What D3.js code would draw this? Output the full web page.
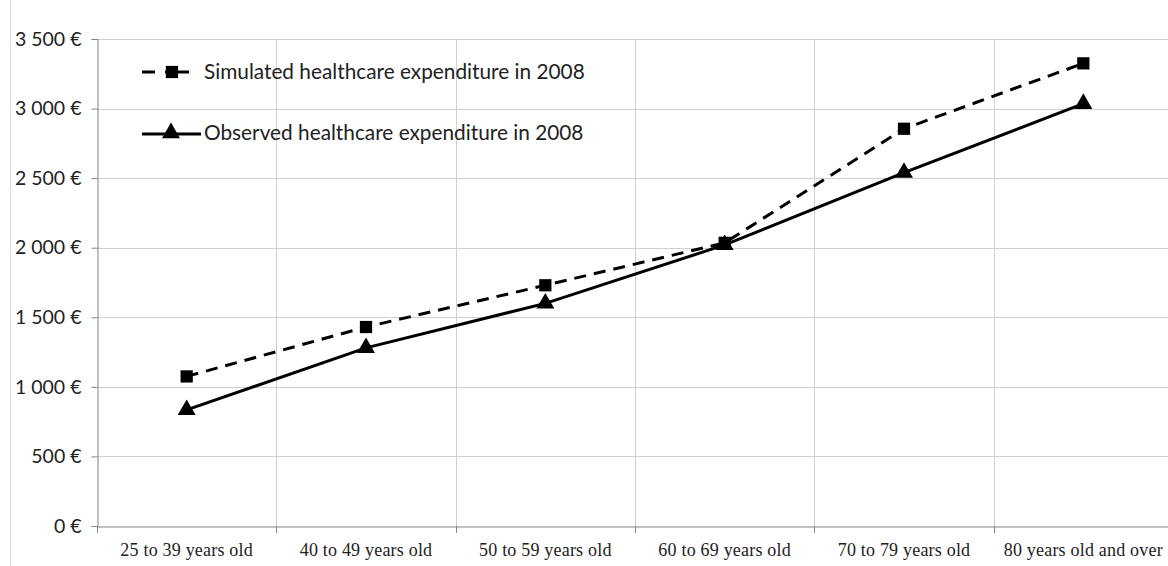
<!DOCTYPE html>
<html>
<head>
<meta charset="utf-8">
<script src="https://cdn.jsdelivr.net/npm/d3@7"></script>
<style>
  body { margin: 0; background: #fff; }
  .ylab { font-family: Lato, "Open Sans", sans-serif; font-size: 19.5px; fill: #222; }
  .xlab { font-family: "Liberation Serif", "DejaVu Serif", serif; font-size: 18px; letter-spacing: 0.2px; fill: #222; }
  .leg { font-family: Lato, "Open Sans", sans-serif; font-size: 20.8px; fill: #222; }
</style>
</head>
<body>
<div id="chart"></div>
<script>
var width = 1168, height = 566;

var categories = ["25 to 39 years old", "40 to 49 years old", "50 to 59 years old",
                  "60 to 69 years old", "70 to 79 years old", "80 years old and over"];
var simulated = [1075, 1430, 1730, 2035, 2855, 3325];
var observed = [835, 1280, 1600, 2020, 2540, 3035];
var yTicks = [0, 500, 1000, 1500, 2000, 2500, 3000, 3500];
var legendLabels = ["Simulated healthcare expenditure in 2008", "Observed healthcare expenditure in 2008"];

var plotLeft = 97, plotRight = 1173, plotTop = 39, plotBottom = 526;

var x = d3.scaleBand()
    .domain(categories)
    .range([plotLeft, plotRight]);

var y = d3.scaleLinear()
    .domain([0, 3500])
    .range([plotBottom, plotTop]);

var svg = d3.select("#chart").append("svg")
    .attr("width", width)
    .attr("height", height);

// chart border on the left
svg.append("line")
    .attr("x1", 10.5).attr("x2", 10.5)
    .attr("y1", 0).attr("y2", height)
    .attr("stroke", "#d9d9d9");

// gridlines
svg.append("g")
    .selectAll("line")
    .data(yTicks.slice(1))
    .enter().append("line")
    .attr("x1", plotLeft).attr("x2", plotRight)
    .attr("y1", function(d) { return Math.round(y(d)) + 0.5; })
    .attr("y2", function(d) { return Math.round(y(d)) + 0.5; })
    .attr("stroke", "#d0d0d0");

svg.append("g")
    .selectAll("line")
    .data(categories.slice(1))
    .enter().append("line")
    .attr("x1", function(d) { return Math.round(x(d)) + 0.5; })
    .attr("x2", function(d) { return Math.round(x(d)) + 0.5; })
    .attr("y1", plotTop).attr("y2", plotBottom)
    .attr("stroke", "#d0d0d0");

// axes
var yAxis = d3.axisLeft(y)
    .tickValues(yTicks)
    .tickSize(6)
    .tickPadding(10)
    .tickFormat(function(d) { return d3.format(",")(d).replace(",", " ") + " €"; });

var gy = svg.append("g")
    .attr("transform", "translate(" + (plotLeft + 0.5) + ",0)")
    .call(yAxis);
gy.select(".domain").attr("stroke", "#868686");
gy.selectAll(".tick line").attr("stroke", "#868686");
gy.selectAll(".tick text").attr("class", "ylab");
gy.attr("font-family", null).attr("font-size", null);

var gx = svg.append("g")
    .attr("transform", "translate(0," + (plotBottom + 0.5) + ")")
    .call(d3.axisBottom(x).tickSize(0).tickFormat(""));
gx.select(".domain").attr("stroke", "#868686");
gx.selectAll(".tick").remove();

// tick marks at category boundaries
svg.append("g")
    .selectAll("line")
    .data(categories)
    .enter().append("line")
    .attr("x1", function(d) { return Math.round(x(d)) + 0.5; })
    .attr("x2", function(d) { return Math.round(x(d)) + 0.5; })
    .attr("y1", plotBottom).attr("y2", plotBottom + 7)
    .attr("stroke", "#868686");

svg.append("g")
    .selectAll("text")
    .data(categories)
    .enter().append("text")
    .attr("class", "xlab")
    .attr("x", function(d) { return x(d) + x.bandwidth() / 2; })
    .attr("y", 556)
    .attr("text-anchor", "middle")
    .text(function(d) { return d; });

// lines
var line = d3.line()
    .x(function(d, i) { return x(categories[i]) + x.bandwidth() / 2; })
    .y(function(d) { return y(d); });

svg.append("path")
    .datum(simulated)
    .attr("d", line)
    .attr("fill", "none")
    .attr("stroke", "#000")
    .attr("stroke-width", 3)
    .attr("stroke-dasharray", "12,8");

svg.append("path")
    .datum(observed)
    .attr("d", line)
    .attr("fill", "none")
    .attr("stroke", "#000")
    .attr("stroke-width", 3);

var square = d3.symbol().type(d3.symbolSquare).size(150);
var triangle = d3.symbol().type(d3.symbolTriangle).size(140);

svg.append("g")
    .selectAll("path")
    .data(simulated)
    .enter().append("path")
    .attr("d", square)
    .attr("transform", function(d, i) { return "translate(" + (x(categories[i]) + x.bandwidth() / 2) + "," + y(d) + ")"; })
    .attr("fill", "#000");

svg.append("g")
    .selectAll("path")
    .data(observed)
    .enter().append("path")
    .attr("d", triangle)
    .attr("transform", function(d, i) { return "translate(" + (x(categories[i]) + x.bandwidth() / 2) + "," + y(d) + ")"; })
    .attr("fill", "#000");

// legend
var legend = svg.append("g");

legend.append("line")
    .attr("x1", 142).attr("x2", 189)
    .attr("y1", 72).attr("y2", 72)
    .attr("stroke", "#000").attr("stroke-width", 3)
    .attr("stroke-dasharray", "13,10,40");
legend.append("path")
    .attr("d", square)
    .attr("transform", "translate(172,72)");

legend.append("line")
    .attr("x1", 142).attr("x2", 201)
    .attr("y1", 134).attr("y2", 134)
    .attr("stroke", "#000").attr("stroke-width", 3);
legend.append("path")
    .attr("d", triangle)
    .attr("transform", "translate(171,133)");

legend.selectAll("text")
    .data(legendLabels)
    .enter().append("text")
    .attr("class", "leg")
    .attr("x", 204)
    .attr("y", function(d, i) { return 79 + i * 61; })
    .text(function(d) { return d; });
</script>
</body>
</html>
